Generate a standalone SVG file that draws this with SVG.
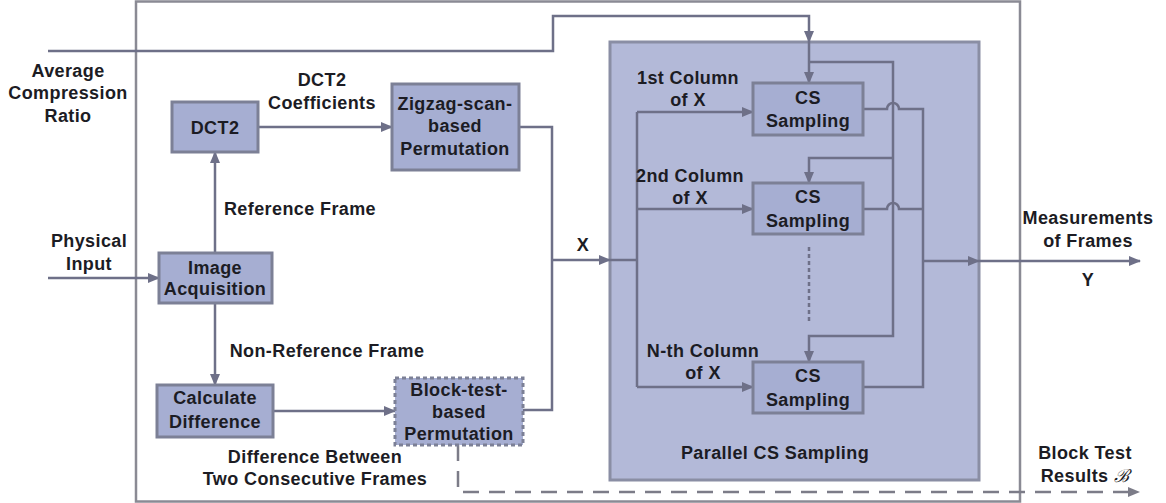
<svg xmlns="http://www.w3.org/2000/svg" width="1166" height="503" viewBox="0 0 1166 503">
<defs>
<marker id="ah" markerWidth="12" markerHeight="10" refX="11" refY="5" orient="auto" markerUnits="userSpaceOnUse">
<path d="M0,0 L12,5 L0,10 Z" fill="#6e7088"/>
</marker>
<style>
text{font-family:"Liberation Sans",Arial,sans-serif;font-weight:bold;font-size:18px;letter-spacing:0.4px;fill:#1c1c24;text-anchor:middle}
.box{fill:#a6aed2;stroke:#7c8096;stroke-width:3}
.ln{fill:none;stroke:#6e7088;stroke-width:2.5}
.dash{fill:none;stroke:#7c7c88;stroke-width:2.5;stroke-dasharray:16,10}
</style>
</defs>
<rect width="1166" height="503" fill="#ffffff"/>
<rect id="frame" x="136" y="1.5" width="884" height="500" fill="none" stroke="#8a8a94" stroke-width="2.5"/>
<g id="parallel">
<rect x="610" y="42" width="369" height="438" fill="#b3b9d8" stroke="#8a8ea4" stroke-width="3"/>
<text x="775" y="459">Parallel CS Sampling</text>
</g>
<g id="connectors">
<path class="ln" d="M48,51 H553 V16 H809 V42" marker-end="url(#ah)"/>
<path class="ln" d="M809,42 V83" marker-end="url(#ah)"/>
<path class="ln" d="M809,62 H893 V336 H809 V362" marker-end="url(#ah)"/>
<path class="ln" d="M893,158 H809 V183" marker-end="url(#ah)"/>
<path class="ln" d="M863,109 H887 A6,6 0 0 1 899,109 H923 V387 H863"/>
<path class="ln" d="M863,209 H887 A6,6 0 0 1 899,209 H923"/>
<path class="ln" d="M923,261 H979" marker-end="url(#ah)"/>
<path class="ln" d="M979,261 H1140" marker-end="url(#ah)"/>
<path class="ln" d="M519,127 H552 V410 H523"/>
<path class="ln" d="M552,260 H610" marker-end="url(#ah)"/>
<path class="ln" d="M610,260 H637"/>
<path class="ln" d="M637,112 V387"/>
<path class="ln" d="M637,112 H753" marker-end="url(#ah)"/>
<path class="ln" d="M637,209 H753" marker-end="url(#ah)"/>
<path class="ln" d="M637,387 H753" marker-end="url(#ah)"/>
<path d="M809,247 V323" fill="none" stroke="#6e7088" stroke-width="2.5" stroke-dasharray="4,3"/>
<path class="ln" d="M258,127 H392" marker-end="url(#ah)"/>
<path class="ln" d="M215,253 V152" marker-end="url(#ah)"/>
<path class="ln" d="M48,278 H159" marker-end="url(#ah)"/>
<path class="ln" d="M215,303 V385" marker-end="url(#ah)"/>
<path class="ln" d="M273,411 H395" marker-end="url(#ah)"/>
<path class="dash" d="M458,445 V492 H1128"/>
<path d="M1128,487 L1140,492 L1128,497 Z" fill="#7c7c88"/>
</g>
<g id="dct2"><rect class="box" x="172" y="102" width="86" height="50"/><text x="215" y="134">DCT2</text></g>
<g id="zigzag"><rect class="box" x="392" y="84" width="127" height="86"/><text x="455" y="110">Zigzag-scan-</text><text x="455" y="132">based</text><text x="455" y="155">Permutation</text></g>
<g id="acq"><rect class="box" x="159" y="253" width="113" height="50"/><text x="215" y="274">Image</text><text x="215" y="295">Acquisition</text></g>
<g id="calc"><rect class="box" x="157" y="385" width="116" height="52"/><text x="215" y="404">Calculate</text><text x="215" y="428">Difference</text></g>
<g id="block"><rect x="395" y="378" width="128" height="67" fill="#a6aed2" stroke="#7c8096" stroke-width="3" stroke-dasharray="4,3"/><text x="459" y="396">Block-test-</text><text x="459" y="418">based</text><text x="459" y="440">Permutation</text></g>
<g id="cs1"><rect class="box" x="753" y="83" width="110" height="52"/><text x="808" y="104">CS</text><text x="808" y="127">Sampling</text></g>
<g id="cs2"><rect class="box" x="753" y="183" width="110" height="51"/><text x="808" y="203">CS</text><text x="808" y="227">Sampling</text></g>
<g id="cs3"><rect class="box" x="753" y="362" width="110" height="51"/><text x="808" y="382">CS</text><text x="808" y="406">Sampling</text></g>
<g id="labels">
<text x="68" y="77">Average</text>
<text x="68" y="99">Compression</text>
<text x="68" y="122">Ratio</text>
<text x="322" y="86">DCT2</text>
<text x="322" y="109">Coefficients</text>
<text x="300" y="215">Reference Frame</text>
<text x="89" y="247">Physical</text>
<text x="89" y="270">Input</text>
<text x="327" y="357">Non-Reference Frame</text>
<text x="315" y="463">Difference Between</text>
<text x="315" y="485">Two Consecutive Frames</text>
<text x="583" y="251">X</text>
<text x="688" y="84">1st Column</text>
<text x="688" y="106">of X</text>
<text x="690" y="182">2nd Column</text>
<text x="690" y="204">of X</text>
<text x="703" y="357">N-th Column</text>
<text x="703" y="379">of X</text>
<text x="1088" y="224">Measurements</text>
<text x="1088" y="247">of Frames</text>
<text x="1088" y="286">Y</text>
<text x="1085" y="459">Block Test</text>
<text x="1085" y="482">Results <tspan style="font-family:'DejaVu Serif',serif;font-style:italic;font-weight:normal">ℬ</tspan></text>
</g>
</svg>
